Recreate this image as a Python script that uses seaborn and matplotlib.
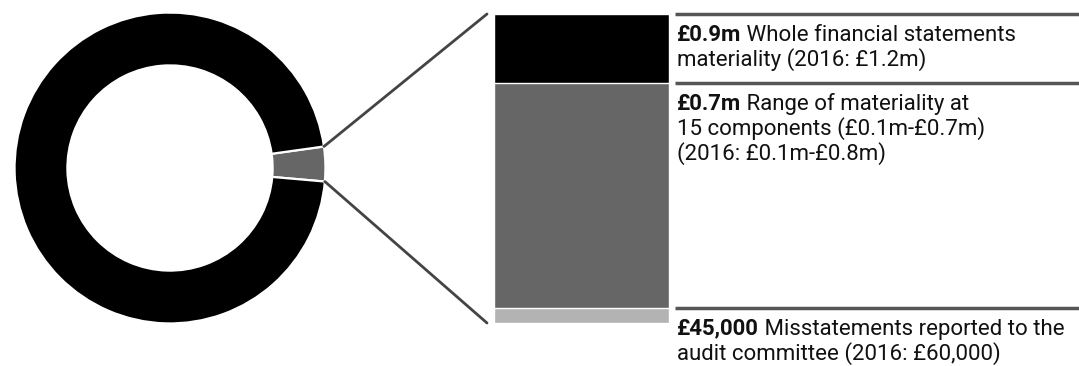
import matplotlib
matplotlib.use("Agg")
import matplotlib.pyplot as plt
import matplotlib.transforms as mtransforms
from matplotlib.patches import ConnectionPatch
import numpy as np
import seaborn as sns

# ============================================
# Data
# ============================================
donut_labels = ["Materiality", "Rest"]
donut_values = [3.6, 96.4]          # share of the ring (%)
donut_colors = ["#666666", "#000000"]

bar_labels = ["Whole financial statements", "Component range", "Misstatements reported"]
bar_values = [0.9, 0.7, 0.045]      # £m, cumulative heights of the stack
bar_colors = ["#000000", "#666666", "#b3b3b3"]

heads = ["£0.9m", "£0.7m", "£45,000"]
first_lines = [" Whole financial statements", " Range of materiality at", " Misstatements reported to the"]
rest_lines = [
    ["materiality (2016: £1.2m)"],
    ["15 components (£0.1m-£0.7m)", "(2016: £0.1m-£0.8m)"],
    ["audit committee (2016: £60,000)"],
]

# ============================================
# Figure
# ============================================
sns.set_style("white")
plt.rcParams["font.family"] = ["Roboto", "DejaVu Sans"]

W, H = 1079, 366
fig = plt.figure(figsize=(W / 100, H / 100), dpi=100)

# donut
ax_pie = fig.add_axes([13 / W, (H - 325) / H, 314 / W, 314 / H])
start = -5
wedges, _ = ax_pie.pie(
    donut_values,
    colors=donut_colors,
    startangle=start,
    counterclock=True,
    radius=1,
    wedgeprops=dict(width=0.34, edgecolor="white", linewidth=1.6),
)
ax_pie.set_aspect("equal")
ax_pie.set_xlim(-1.01, 1.01)
ax_pie.set_ylim(-1.01, 1.01)
ax_pie.axis("off")

# stacked bar (tallest first, then overlay)
ax_bar = fig.add_axes([494 / W, (H - 323) / H, 175 / W, 309 / H])
for lab, val, col in zip(bar_labels, bar_values, bar_colors):
    sns.barplot(x=["bar"], y=[val], color=col, width=1, saturation=1, ax=ax_bar)
ax_bar.set_xlim(-0.5, 0.5)
ax_bar.set_ylim(0, max(bar_values))
ax_bar.axis("off")

# connector lines from the wedge to the bar
a0 = np.deg2rad(start)
a1 = np.deg2rad(start + donut_values[0] / sum(donut_values) * 360)
for ang, yb in [(a1, 1), (a0, 0)]:
    con = ConnectionPatch(
        xyA=(np.cos(ang), np.sin(ang)), coordsA=ax_pie.transData,
        xyB=(-0.04, yb), coordsB=ax_bar.transAxes,
        color="#444444", linewidth=2,
    )
    fig.add_artist(con)

# rules and labels
trans = mtransforms.blended_transform_factory(fig.transFigure, ax_bar.transData)
x_rule = 675 / W
x_text = 677 / W
px = 0.72  # points per pixel at dpi 100
fs = 16
for val, head, first, rest in zip(bar_values, heads, first_lines, rest_lines):
    ax_bar.plot([x_rule, 1.0], [val, val], color="#555555", linewidth=2.5,
                transform=trans, clip_on=False, solid_capstyle="butt")
    t = ax_bar.annotate(head, xy=(x_text, val), xycoords=trans,
                        xytext=(0, -27 * px), textcoords="offset points",
                        fontsize=fs, fontweight="bold", va="baseline", ha="left",
                        color="#111111")
    ax_bar.annotate(first, xy=(1, 0), xycoords=t, xytext=(0, 0),
                    textcoords="offset points", fontsize=fs, va="bottom",
                    ha="left", color="#111111")
    for i, line in enumerate(rest):
        ax_bar.annotate(line, xy=(x_text, val), xycoords=trans,
                        xytext=(0, -(52 + 25 * i) * px), textcoords="offset points",
                        fontsize=fs, va="baseline", ha="left", color="#111111")

fig.savefig("out.png", dpi=100)
